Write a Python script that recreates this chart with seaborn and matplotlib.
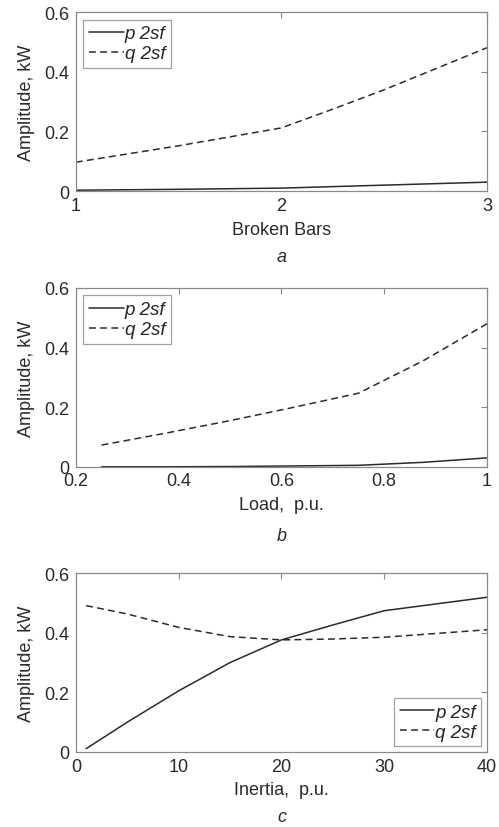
import matplotlib
matplotlib.use("Agg")
import matplotlib.pyplot as plt
import seaborn as sns
import pandas as pd

# Panel a: broken bars
bars_x = [1, 1.5, 2, 2.25, 2.5, 3]
bars_p = [0.003, 0.006, 0.010, 0.015, 0.020, 0.030]
bars_q = [0.097, 0.152, 0.212, 0.275, 0.340, 0.481]

# Panel b: load
load_x = [0.25, 0.375, 0.5, 0.625, 0.75, 0.875, 1.0]
load_p = [0.000, 0.000, 0.001, 0.003, 0.005, 0.015, 0.030]
load_q = [0.073, 0.113, 0.155, 0.200, 0.247, 0.355, 0.480]

# Panel c: inertia
inert_x = [1, 5, 10, 15, 20, 25, 30, 40]
inert_p = [0.011, 0.100, 0.205, 0.300, 0.376, 0.426, 0.474, 0.519]
inert_q = [0.491, 0.463, 0.418, 0.387, 0.376, 0.379, 0.385, 0.410]

series_names = ["p 2sf", "q 2sf"]
xlabels = ["Broken Bars", "Load,  p.u.", "Inertia,  p.u."]
panel_tags = ["a", "b", "c"]
ylabel = "Amplitude, kW"

sns.set_theme(style="white")
plt.rcParams['font.family'] = ['Liberation Sans', 'DejaVu Sans']
plt.rcParams['xtick.direction'] = 'in'
plt.rcParams['ytick.direction'] = 'in'

FS = 13
LFS = 13.5
fig = plt.figure(figsize=(4.99, 8.28), dpi=100)
left, width = 0.152, 0.824
bottoms = [0.768, 0.435, 0.0906]
height = 0.216
ax_h_px = height * 828
tag_offsets = [65, 69, 65]

panels = [
    (bars_x, bars_p, bars_q, (1, 3), [1, 2, 3], ["1", "2", "3"], "upper left", 0.4),
    (load_x, load_p, load_q, (0.2, 1), [0.2, 0.4, 0.6, 0.8, 1.0], ["0.2", "0.4", "0.6", "0.8", "1"], "upper left", 0.4),
    (inert_x, inert_p, inert_q, (0, 40), [0, 10, 20, 30, 40], ["0", "10", "20", "30", "40"], "lower right", 0.3),
]

spine_col = "#8a8a8a"
line_col = "#2b2b2b"
text_col = "#2a2a2a"

for i, (x, p, q, xlim, xt, xtl, loc, bap) in enumerate(panels):
    ax = fig.add_axes([left, bottoms[i], width, height])
    df = pd.DataFrame({"x": list(x) * 2, "y": list(p) + list(q),
                       "series": [series_names[0]] * len(x) + [series_names[1]] * len(x)})
    sns.lineplot(data=df[df.series == series_names[0]], x="x", y="y", ax=ax,
                 color=line_col, lw=1.1, linestyle="-", label=series_names[0])
    sns.lineplot(data=df[df.series == series_names[1]], x="x", y="y", ax=ax,
                 color=line_col, lw=1.1, linestyle=(0, (4.5, 2.8)), label=series_names[1])
    ax.set_xlim(*xlim)
    ax.set_ylim(0, 0.6)
    ax.set_xticks(xt)
    ax.set_xticklabels(xtl)
    ax.set_yticks([0, 0.2, 0.4, 0.6])
    ax.set_yticklabels(["0", "0.2", "0.4", "0.6"])
    ax.tick_params(axis="both", labelsize=FS, colors=spine_col, labelcolor=text_col,
                   length=4, width=0.8, top=True, right=True)
    ax.tick_params(axis="x", pad=4)
    ax.tick_params(axis="y", pad=5)
    for s in ax.spines.values():
        s.set_color(spine_col)
        s.set_linewidth(0.9)
    ax.set_xlabel(xlabels[i], fontsize=FS, color=text_col, labelpad=5)
    ax.set_ylabel(ylabel, fontsize=FS, color=text_col, labelpad=6)
    leg = ax.legend(loc=loc, frameon=True, fancybox=False,
                    handlelength=1.85, handletextpad=0.05, borderpad=0.3,
                    labelspacing=0.15, borderaxespad=bap,
                    prop={"style": "italic", "size": LFS})
    leg.get_frame().set_edgecolor(spine_col)
    leg.get_frame().set_linewidth(0.9)
    ax.text(0.5, -tag_offsets[i] / ax_h_px, panel_tags[i], transform=ax.transAxes,
            ha="center", va="center", fontsize=FS, style="italic", color=text_col)

fig.savefig("out.png", dpi=100)
